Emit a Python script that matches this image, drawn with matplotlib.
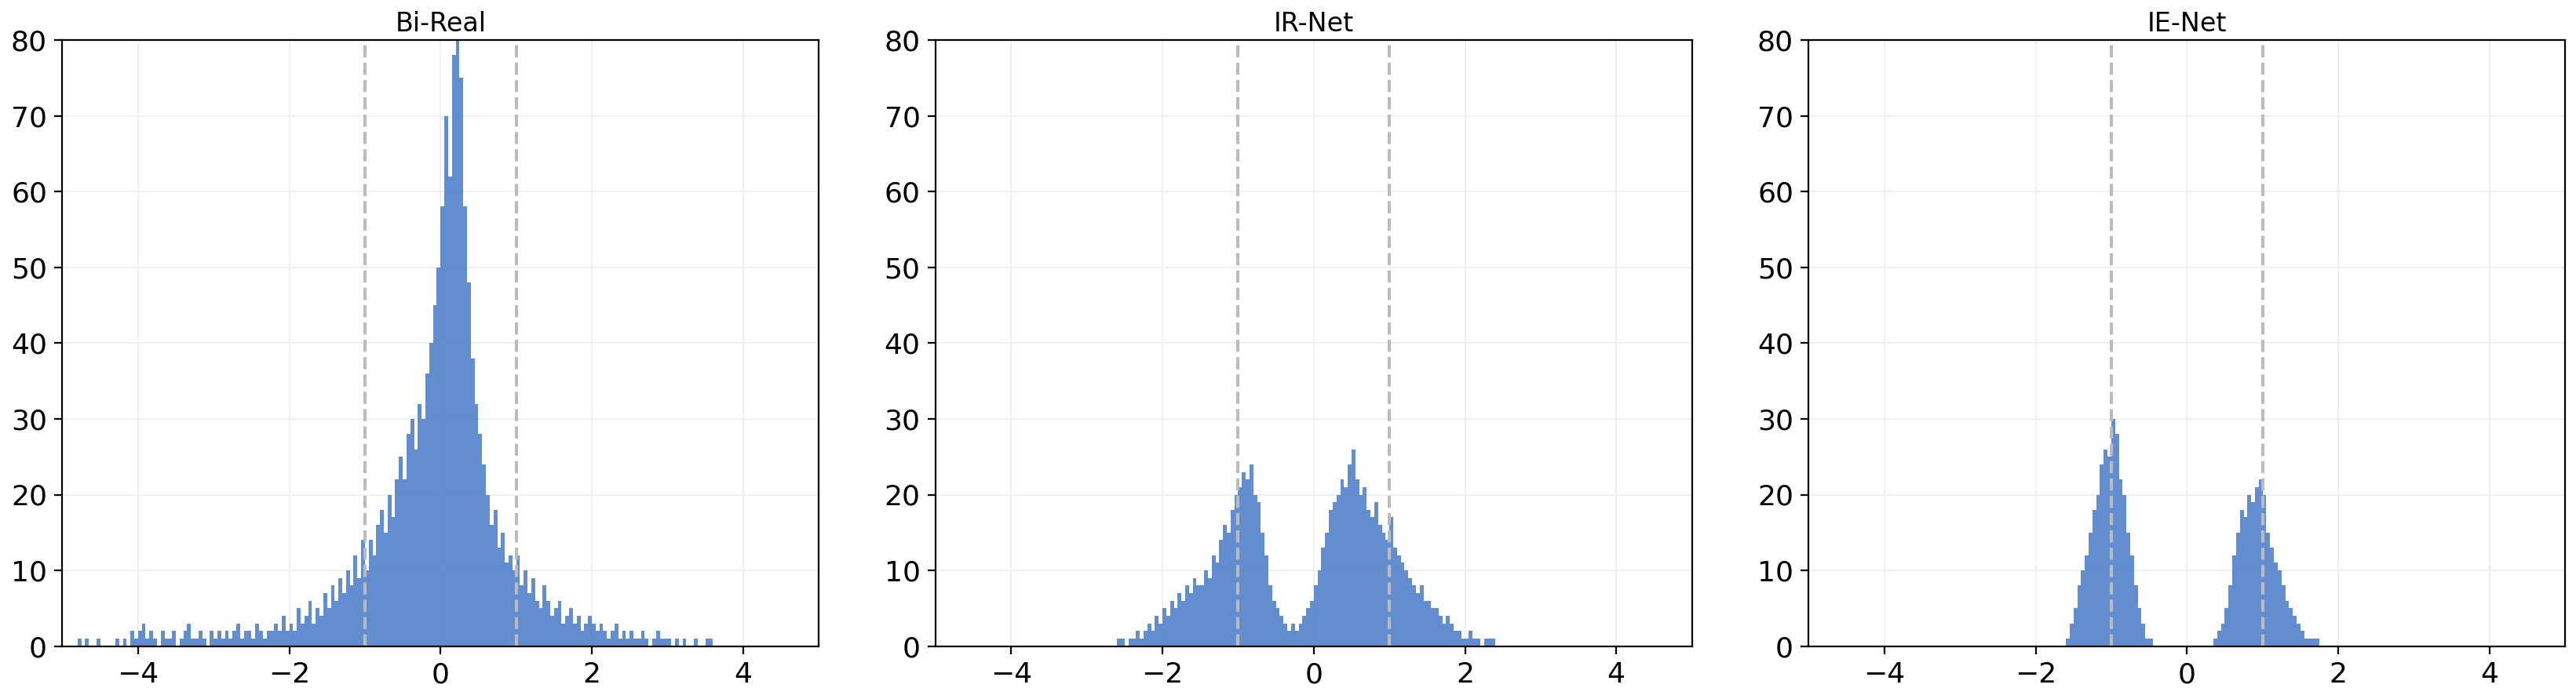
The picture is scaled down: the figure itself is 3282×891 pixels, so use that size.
import numpy as np
import matplotlib
matplotlib.use("Agg")
import matplotlib.pyplot as plt

titles = ["Bi-Real", "IR-Net", "IE-Net"]
bin_width = 0.05

bireal_start = -4.8
bireal_counts = [1,0,1,0,0,1,0,0,0,0,1,0,1,0,2,1,
                 2,3,1,2,1,0,2,1,1,2,0,1,2,3,1,1,2,1,0,2,
                 1,2,1,2,1,2,3,1,2,2,1,3,2,1,2,2,3,2,4,2,
                 3,2,5,3,4,6,3,5,4,7, 5,8,6,9,7,10,8,12,9,14,
                 10,14,12,16,18,15,20,17,22,25, 22,28,30,26,32,30,36,40,45,50,
                 58,70,62,78,82,75,58,48,38,32, 28,24,20,16,18,13,15,11,12,10,
                 12,8,10,7,9,6,5,8,6,4, 5,6,3,4,5,3,4,2,3,4,
                 3,2,3,2,1,2,3,1,2,1, 2,1,1,2,1,0,1,2,1,1,
                 1,0,1,0,1,0,0,1,0,0,1,1,0,0]

irnet_start = -2.6
irnet_counts = [1,1,0,1,1,2,1,2,3,2,4,3,
                5,4,6,5,7,6,8,7,9,8, 8,10,9,12,11,14,16,15,18,20,
                21,23,22,24,20,19,15,12,8,6, 5,4,3,2,3,2,3,4,5,6,
                8,10,13,15,18,19,20,22,21,24, 26,22,20,21,18,17,19,16,15,14,
                17,13,12,11,10,9,8,7,8,6, 6,5,5,4,3,4,3,2,2,1,
                1,2,1,1,0,1,1,1]

ienet_start = -1.6
ienet_counts = [1,3,5,8,10,12,15,18,20,24,26,25,
                30,28,22,20,15,12,8,5,3,1,1,
                0,0,0,0,0,0,0,0,0,0,0,0,0,0,0,0,
                1,2,3,5,8,12,15,18,17,20,19,21,22,
                20,15,13,11,10,8,6,5,4,3,2,1,1,1,1,0]

data = [(bireal_start, bireal_counts), (irnet_start, irnet_counts), (ienet_start, ienet_counts)]

fig, axes = plt.subplots(1, 3, figsize=(16.41, 4.455), dpi=200)
for ax, title, (start, counts) in zip(axes, titles, data):
    counts = np.array(counts, dtype=float)
    edges = start + bin_width * np.arange(len(counts) + 1)
    ax.stairs(counts, edges, fill=True, color="#5b87cf", alpha=0.95)
    ax.axvline(-1, color="#bbbbbb", ls="--", lw=1.5)
    ax.axvline(1, color="#bbbbbb", ls="--", lw=1.5)
    ax.set_xlim(-5, 5)
    ax.set_ylim(0, 80)
    ax.set_xticks([-4, -2, 0, 2, 4])
    ax.set_yticks(range(0, 81, 10))
    ax.grid(True, color="#eeeeee", lw=0.6)
    ax.set_axisbelow(True)
    ax.set_title(title, fontsize=12, pad=4)
    ax.tick_params(labelsize=13)
    ax.set_xticklabels(["\u22124", "\u22122", "0", "2", "4"])
plt.tight_layout(pad=0.5, w_pad=3)
fig.savefig("out.png", dpi=200)
